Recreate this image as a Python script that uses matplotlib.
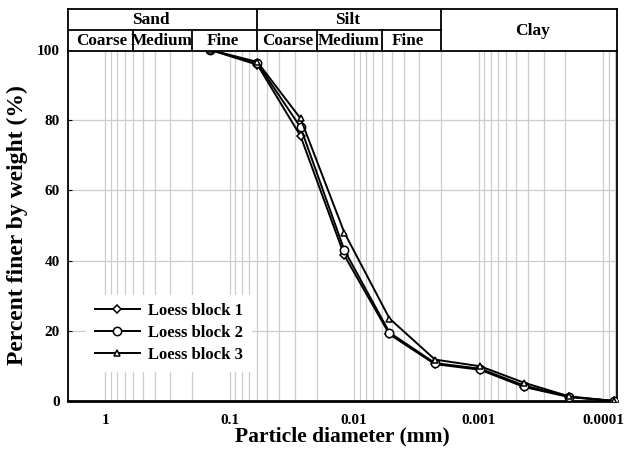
import matplotlib
matplotlib.use("Agg")
import matplotlib.pyplot as plt
from matplotlib.ticker import FixedLocator, NullFormatter, NullLocator

plt.rcParams['font.family'] = ['Liberation Serif', 'DejaVu Serif']
plt.rcParams['font.weight'] = 'bold'

# grain size data (mm) and percent finer
diameter = [0.143, 0.06, 0.027, 0.012, 0.0052, 0.00224, 0.00097, 0.00043, 0.000186, 0.000081]
block1 = [100, 95.8, 75.5, 41.5, 19.0, 10.5, 8.9, 4.0, 1.1, 0]
block2 = [100, 96.2, 78.0, 43.0, 19.5, 10.8, 9.2, 4.4, 1.2, 0]
block3 = [100, 96.6, 80.5, 48.0, 23.5, 11.8, 9.9, 5.2, 1.3, 0]
labels = ["Loess block 1", "Loess block 2", "Loess block 3"]
markers = ["D", "o", "^"]
msizes = [4, 6, 5]

xticks = [1, 0.1, 0.01, 0.001, 0.0001]
xticklabels = ["1", "0.1", "0.01", "0.001", "0.0001"]
yticks = [0, 20, 40, 60, 80, 100]

# header classification (BS scheme)
main_bounds = [0.06, 0.002]
sub_bounds = [0.6, 0.2, 0.02, 0.006]
main_names = ["Sand", "Silt"]
main_pos = [0.43, 0.0113]
sub_names = ["Coarse", "Medium", "Fine", "Coarse", "Medium", "Fine"]
sub_pos = [1.08, 0.354, 0.114, 0.0343, 0.011, 0.0037]

xmin, xmax = 2.0, 0.000077

fig = plt.figure(figsize=(6.25, 4.51), dpi=100)
ax = fig.add_axes([68/625, 50/451, 549/625, 351/451])
hx = fig.add_axes([68/625, (451-51)/451, 549/625, 42/451])

for y, mk, ms, lab in zip([block1, block2, block3], markers, msizes, labels):
    ax.plot(diameter, y, color='black', lw=1.4, marker=mk, ms=ms,
            mfc='white', mec='black', mew=1.1, label=lab, zorder=3)

ax.set_xscale('log')
ax.set_xlim(xmin, xmax)
ax.set_ylim(0, 100)
ax.xaxis.set_major_locator(FixedLocator(xticks))
ax.xaxis.set_minor_locator(FixedLocator(
    [m * 10.0**e for e in range(-5, 1) for m in range(2, 10)]))
ax.xaxis.set_minor_formatter(NullFormatter())
ax.set_xticklabels(xticklabels)
ax.set_yticks(yticks)
ax.grid(True, which='both', axis='x', color='#cccccc', lw=0.9)
ax.grid(True, which='major', axis='y', color='#cccccc', lw=0.9)
ax.set_axisbelow(True)
ax.tick_params(axis='x', which='both', length=0, pad=9, labelsize=11)
ax.tick_params(axis='y', length=3, direction='in', pad=6, labelsize=11)
ax.spines['top'].set_visible(False)
ax.spines['bottom'].set_linewidth(2.0)
ax.spines['left'].set_linewidth(1.3)
ax.spines['right'].set_linewidth(1.3)

ax.set_xlabel("Particle diameter (mm)", fontsize=15.5, fontweight='bold', labelpad=0)
ax.set_ylabel("Percent finer by weight (%)", fontsize=17, fontweight='bold', labelpad=6)

leg = ax.legend(loc='center left', bbox_to_anchor=(0.018, 0.194), fontsize=12,
                frameon=True, fancybox=False, edgecolor='white', facecolor='white',
                framealpha=1, handlelength=2.7, handletextpad=0.5, labelspacing=0.35,
                borderpad=0.5)
leg.set_zorder(5)

# header table
hx.set_xscale('log')
hx.set_xlim(xmin, xmax)
hx.set_ylim(0, 2)
hx.xaxis.set_major_locator(NullLocator())
hx.xaxis.set_minor_locator(NullLocator())
hx.set_yticks([])
for s in hx.spines.values():
    s.set_linewidth(1.3)
hx.plot([xmin, main_bounds[1]], [1, 1], color='black', lw=1.3)
for b in main_bounds:
    hx.plot([b, b], [0, 2], color='black', lw=1.3)
for b in sub_bounds:
    hx.plot([b, b], [0, 1], color='black', lw=1.3)
for name, p in zip(main_names, main_pos):
    hx.text(p, 1.5, name, ha='center', va='center', fontsize=12.5, fontweight='bold')
for name, p in zip(sub_names, sub_pos):
    hx.text(p, 0.46, name, ha='center', va='center', fontsize=12.3, fontweight='bold')
hx.text(0.00037, 0.95, "Clay", ha='center', va='center', fontsize=12.5, fontweight='bold')

fig.savefig("out.png", dpi=100)
